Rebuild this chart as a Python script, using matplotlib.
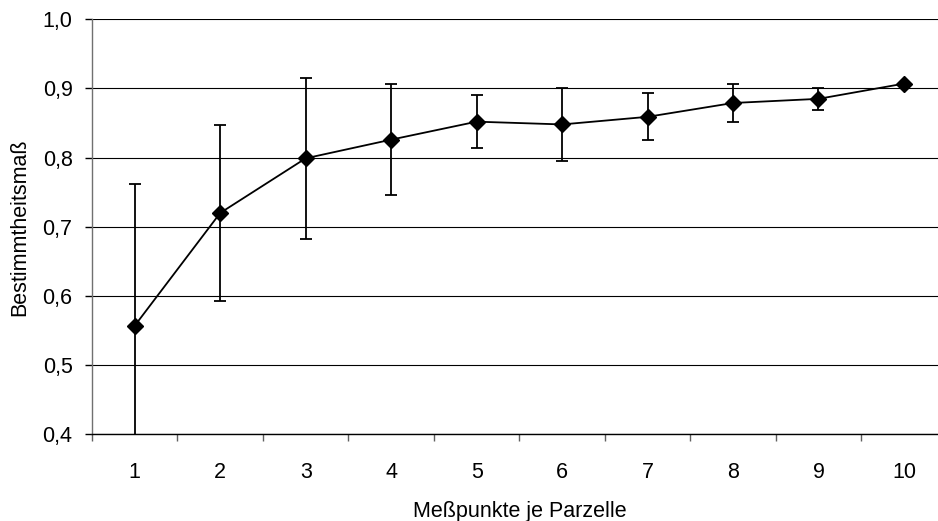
import matplotlib
matplotlib.use("Agg")
import matplotlib.pyplot as plt
from matplotlib.ticker import FixedLocator

plt.rcParams['font.family'] = ['Liberation Sans', 'DejaVu Sans']

# Number of measuring points per plot and the resulting coefficient of determination
punkte = [1, 2, 3, 4, 5, 6, 7, 8, 9, 10]
r2 = [0.557, 0.720, 0.799, 0.826, 0.852, 0.848, 0.859, 0.879, 0.885, 0.907]
r2_err = [0.205, 0.127, 0.116, 0.080, 0.038, 0.053, 0.034, 0.028, 0.016, 0.0]

y_ticks = [0.4, 0.5, 0.6, 0.7, 0.8, 0.9, 1.0]
y_tick_labels = ["0,4", "0,5", "0,6", "0,7", "0,8", "0,9", "1,0"]

FS = 15.5

fig = plt.figure(figsize=(9.38, 5.21), dpi=100)
ax = fig.add_axes([92 / 938, 86.7 / 521, (946.7 - 92) / 938, (434.3 - 19.3) / 521])

ax.errorbar(punkte, r2, yerr=r2_err, color="black", lw=1.3, elinewidth=1.3,
            capsize=4.5, capthick=1.3, marker="D", markersize=8,
            markerfacecolor="black", markeredgecolor="black", zorder=3)

ax.set_xlim(0.5, 10.5)
ax.set_ylim(0.4, 1.0)

ax.set_yticks(y_ticks)
ax.set_yticklabels(y_tick_labels, fontsize=FS)
ax.yaxis.grid(True, color="black", lw=0.8)
ax.set_axisbelow(True)

ax.set_xticks(punkte)
ax.set_xticklabels([str(p) for p in punkte], fontsize=FS)
ax.xaxis.set_minor_locator(FixedLocator([p - 0.5 for p in punkte] + [10.5]))
ax.tick_params(axis="x", which="major", length=0, pad=20)
ax.tick_params(axis="x", which="minor", length=5, width=1, color="#606060",
               direction="out")
ax.tick_params(axis="y", which="major", length=5, width=1, color="black",
               direction="out", pad=9)

for side in ("top", "right"):
    ax.spines[side].set_visible(False)
ax.spines["left"].set_color("#707070")
ax.spines["left"].set_linewidth(1.0)
ax.spines["bottom"].set_color("black")
ax.spines["bottom"].set_linewidth(1.0)

ax.set_xlabel("Meßpunkte je Parzelle", fontsize=FS, labelpad=13)
ax.set_ylabel("Bestimmtheitsmaß", fontsize=FS, labelpad=9)

fig.savefig("out.png", dpi=100, facecolor="white")
